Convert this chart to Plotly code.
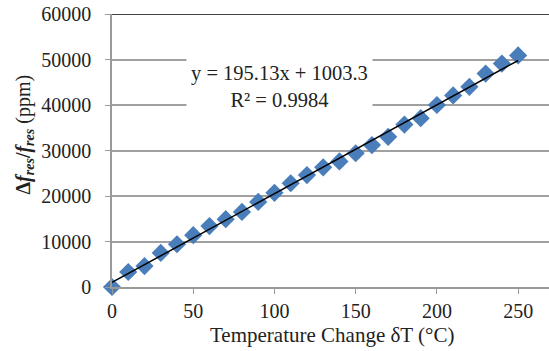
import plotly.graph_objects as go

temp_change = [0, 10, 20, 30, 40, 50, 60, 70, 80, 90, 100, 110, 120, 130, 140,
               150, 160, 170, 180, 190, 200, 210, 220, 230, 240, 250]
freq_shift_ppm = [0, 3300, 4600, 7500, 9400, 11400, 13400, 14900, 16500, 18700,
                  20700, 22800, 24600, 26300, 27600, 29400, 31200, 33000, 35700,
                  37100, 40000, 42100, 44000, 46900, 49100, 50900]
fit_slope = 195.13
fit_intercept = 1003.3
r_squared = 0.9984
x_ticks = [0, 50, 100, 150, 200, 250]
y_ticks = [0, 10000, 20000, 30000, 40000, 50000, 60000]
y_tick_labels = [str(v) for v in y_ticks]

FONT = "Liberation Serif, Times New Roman, DejaVu Serif, serif"
TXT = "#222"

fit_x = [temp_change[0], temp_change[-1]]
fit_y = [fit_slope * v + fit_intercept for v in fit_x]

fig = go.Figure()
fig.add_trace(go.Scatter(
    x=temp_change, y=freq_shift_ppm, mode="markers",
    marker=dict(symbol="diamond", size=14, color="#4a7ebb", line=dict(width=0)),
    showlegend=False, cliponaxis=False))
fig.add_trace(go.Scatter(
    x=fit_x, y=fit_y, mode="lines", line=dict(color="black", width=1.5),
    showlegend=False))

fig.update_layout(
    template="none",
    width=549, height=351,
    margin=dict(l=111.5, r=0, t=14, b=63.7),
    paper_bgcolor="white", plot_bgcolor="white",
    font=dict(family=FONT, size=20, color=TXT),
    xaxis=dict(range=[0, 269], tickvals=x_ticks, showgrid=False,
               showline=True, linecolor="#999", linewidth=1.5,
               ticks="outside", ticklen=5, tickcolor="#999",
               zeroline=False, tickfont=dict(family=FONT, size=20, color=TXT)),
    yaxis=dict(range=[0, 60000], tickvals=y_ticks, ticktext=y_tick_labels,
               showgrid=True, gridcolor="#a0a0a0", gridwidth=1.5,
               showline=True, linecolor="#999", linewidth=1.5,
               ticks="outside", ticklen=5, tickcolor="#999",
               zeroline=False, tickfont=dict(family=FONT, size=20, color=TXT),
               ticklabelstandoff=10),
)

# dark top border
fig.add_shape(type="line", xref="paper", yref="y", x0=0, x1=1, y0=60000, y1=60000,
              line=dict(color="#444", width=2))

L, R, T, B = 111.5, 0, 14, 63.7
W, H = 549 - L - R, 351 - T - B
px = lambda x: (x - L) / W
py = lambda y: 1 - (y - T) / H

# trendline equation label
fig.add_annotation(
    x=px(279), y=py(87), xref="paper", yref="paper", xanchor="center", yanchor="middle",
    text=f"y = {fit_slope}x + {fit_intercept}<br>R² = {r_squared}",
    showarrow=False, bgcolor="white", borderpad=4,
    font=dict(family=FONT, size=20.5, color=TXT), align="center")

fig.add_annotation(
    x=px(332), y=py(335), xref="paper", yref="paper", xanchor="center", yanchor="middle",
    text="Temperature Change δT (°C)", showarrow=False,
    font=dict(family=FONT, size=21, color=TXT))

fig.add_annotation(
    x=px(24), y=py(135), xref="paper", yref="paper", textangle=-90,
    xanchor="center", yanchor="middle",
    text="<b>Δ<i>f</i><sub><i>res</i></sub>/<i>f</i><sub><i>res</i></sub></b> (ppm)",
    showarrow=False, font=dict(family=FONT, size=20, color=TXT))

fig.write_html("out.html")
